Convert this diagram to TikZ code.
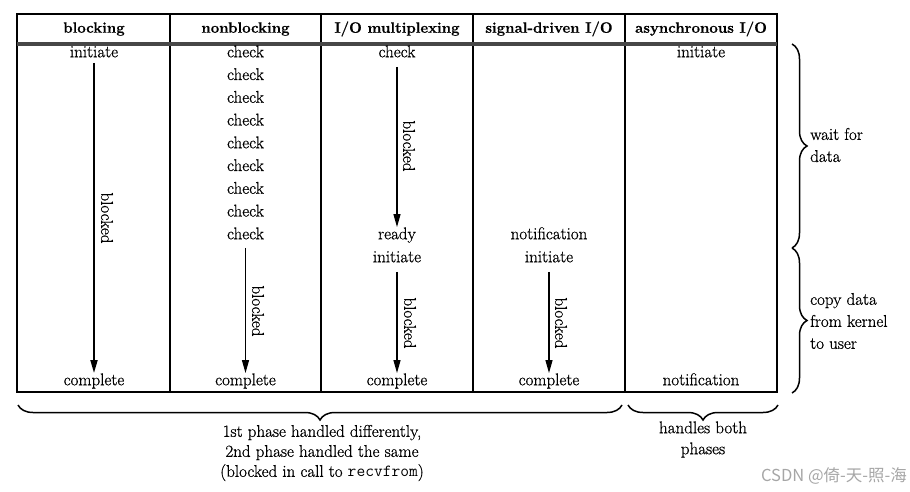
\documentclass[tikz,border=0pt]{standalone}
\usepackage{fontspec}
\setmainfont{Latin Modern Roman}[FakeBold=0.7]
\newfontfamily\cjkfont{Noto Sans CJK SC}
\usetikzlibrary{arrows.meta,decorations.pathreplacing}

\begin{document}
\begin{tikzpicture}[x=1pt,y=1pt,
  txt/.style={font=\fontsize{17}{20}\selectfont, inner sep=0pt, text height=12pt, text depth=3.5pt},
  hdr/.style={font=\fontsize{15}{18}\selectfont\bfseries, inner sep=0pt},
  frame/.style={line width=1.8pt},
  arr/.style={-{Triangle[length=13pt,width=7pt]}, line width=1.2pt},
  barr/.style={arr, line width=1.8pt},
  lbl/.style={font=\fontsize{17}{20}\selectfont, rotate=-90, inner sep=0pt},
  brc/.style={decorate, decoration={brace, amplitude=15pt}, line width=1.5pt},
  side/.style={font=\fontsize{17}{22}\selectfont, align=left, anchor=west, inner sep=0pt},
  bottomtxt/.style={font=\fontsize{17}{20}\selectfont, align=center, inner sep=0pt},
]
\useasboundingbox (0,0) rectangle (910,-492);

% table frame
\draw[frame] (17,-14) rectangle (777,-392);
\foreach \x in {170,321,473,625} \draw[frame] (\x,-14) -- (\x,-392);
\draw[line width=4pt, black!72] (17,-44) -- (777,-44);

% headers
\node[hdr] (h1) at (94,-29) {blocking};
\node[hdr] (h2) at (245.5,-29) {nonblocking};
\node[hdr] (h3) at (397,-29) {I/O multiplexing};
\node[hdr] (h4) at (549,-29) {signal-driven I/O};
\node[hdr] (h5) at (701,-29) {asynchronous I/O};

% blocking
\node[txt] (b1) at (94,-53) {initiate};
\node[txt] (b2) at (94,-381) {complete};
\draw[barr, shorten <=2pt] (b1) -- (b2);
\node[lbl] (l1) at (107,-218) {blocked};

% nonblocking
\foreach \i in {1,...,9} \node[txt] (n\i) at (245.5,{-53-22.75*(\i-1)}) {check};
\node[txt] (n10) at (245.5,-381) {complete};
\draw[arr, shorten <=5pt] (n9) -- (n10);
\node[lbl] (l2) at (258,-311) {blocked};

% I/O multiplexing
\node[txt] (m1) at (397,-53) {check};
\node[txt] (m2) at (397,-235) {ready};
\node[txt] (m3) at (397,-258) {initiate};
\node[txt] (m4) at (397,-381) {complete};
\draw[arr, shorten <=6pt] (m1) -- (m2);
\draw[arr, shorten <=6pt] (m3) -- (m4);
\node[lbl] (l3) at (409,-146) {blocked};
\node[lbl] (l4) at (410,-323) {blocked};

% signal-driven
\node[txt] (s1) at (549,-235) {notification};
\node[txt] (s2) at (549,-258) {initiate};
\node[txt] (s3) at (549,-381) {complete};
\draw[arr, shorten <=6pt] (s2) -- (s3);
\node[lbl] (l5) at (561,-323) {blocked};

% asynchronous
\node[txt] (a1) at (701,-53) {initiate};
\node[txt] (a2) at (701,-381) {notification};

% right braces
\coordinate (r1) at (792,-44);
\coordinate (r2) at (792,-248);
\coordinate (r3) at (792,-393);
\draw[brc] (r1) -- (r2);
\draw[brc] (r2) -- (r3);
\node[side] (w1) at (810,-145) {wait for\\data};
\node[side] (w2) at (810,-321) {copy data\\from kernel\\to user};

% bottom braces
\coordinate (q1) at (18,-405);
\coordinate (q2) at (622,-405);
\coordinate (q3) at (628,-405);
\coordinate (q4) at (778,-405);
\draw[brc] (q2) -- (q1);
\draw[brc] (q4) -- (q3);
\node[bottomtxt] (t1) at (322,-453) {1st phase handled differently,\\2nd phase handled the same\\(blocked in call to \texttt{recvfrom})};
\node[bottomtxt, font=\fontsize{17}{21}\selectfont] (t2) at (703,-439.5) {handles both\\phases};

% watermark
\node[font=\cjkfont\fontsize{16.5}{19}\selectfont, text=black!35, anchor=east, inner sep=0pt] (wm) at (907,-476) {CSDN @倚-天-照-海};
\end{tikzpicture}
\end{document}
